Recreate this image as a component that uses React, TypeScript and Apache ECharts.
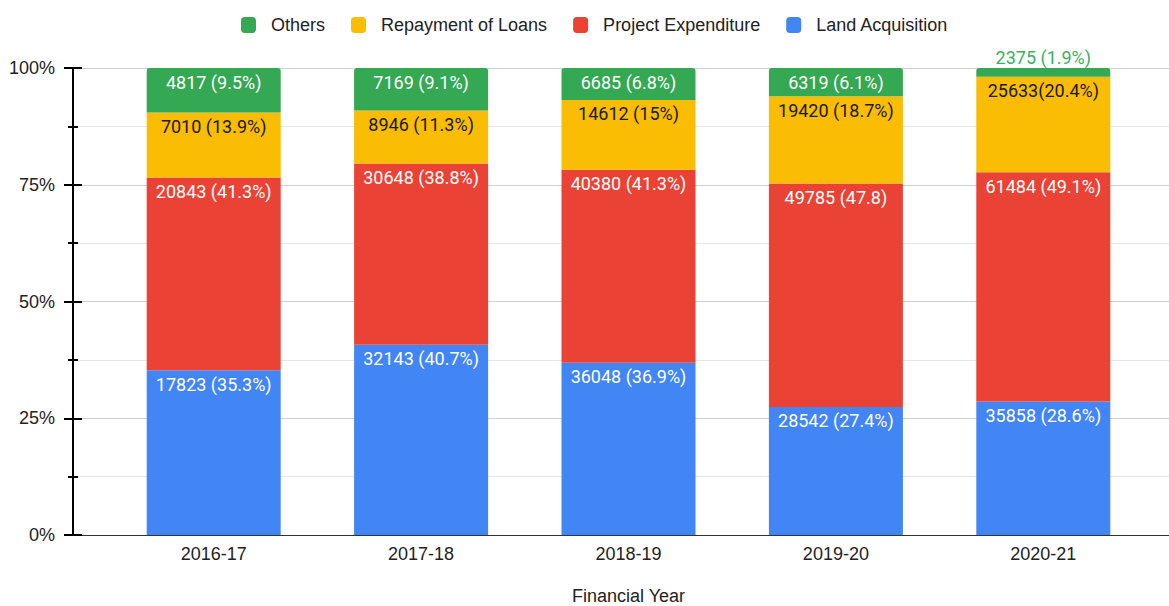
import React, { useEffect, useRef } from "react";
import * as echarts from "echarts";

const categories = ["2016-17", "2017-18", "2018-19", "2019-20", "2020-21"];
const landAcquisition = [17823, 32143, 36048, 28542, 35858];
const projectExpenditure = [20843, 30648, 40380, 49785, 61484];
const repaymentOfLoans = [7010, 8946, 14612, 19420, 25633];
const others = [4817, 7169, 6685, 6319, 2375];

const landLabels = ["17823 (35.3%)", "32143 (40.7%)", "36048 (36.9%)", "28542 (27.4%)", "35858 (28.6%)"];
const projectLabels = ["20843 (41.3%)", "30648 (38.8%)", "40380 (41.3%)", "49785 (47.8)", "61484 (49.1%)"];
const repaymentLabels = ["7010 (13.9%)", "8946 (11.3%)", "14612 (15%)", "19420 (18.7%)", "25633(20.4%)"];
const othersLabels = ["4817 (9.5%)", "7169 (9.1%)", "6685 (6.8%)", "6319 (6.1%)", "2375 (1.9%)"];

const yTicks = [0, 25, 50, 75, 100];

const AXIS_FONT = "Arial, 'Liberation Sans', sans-serif";
const LABEL_FONT = "Roboto, Arial, sans-serif";

export default function App() {
  const ref = useRef<HTMLDivElement>(null);

  useEffect(() => {
    if (!ref.current) return;
    const chart = echarts.init(ref.current, undefined, { renderer: "svg" });

    const totals = categories.map(
      (_, i) => landAcquisition[i] + projectExpenditure[i] + repaymentOfLoans[i] + others[i]
    );
    const pct = (arr: number[]) => arr.map((v, i) => (v / totals[i]) * 100);

    const mkLabel = (labels: string[], color: string) => ({
      show: true,
      position: "insideTop" as const,
      distance: 5,
      color,
      fontFamily: LABEL_FONT,
      fontSize: 18,
      formatter: (p: any) => labels[p.dataIndex],
    });

    const othersPct = pct(others);
    const othersData = othersPct.map((v) =>
      v < 4
        ? {
            value: v,
            label: { position: "top", distance: 2, color: "#3cb062" },
          }
        : v
    );

    const option: any = {
      animation: false,
      legend: {
        top: 11,
        left: 236,
        itemWidth: 15,
        itemHeight: 16,
        itemGap: 26,
        icon: "roundRect",
        textStyle: {
          fontFamily: AXIS_FONT,
          fontSize: 18,
          color: "#222",
          padding: [0, 0, 0, 10],
        },
        data: ["Others", "Repayment of Loans", "Project Expenditure", "Land Acquisition"],
      },
      grid: [
        { left: 73, right: 0, top: 68, bottom: 71, outerBoundsMode: "none", containLabel: false },
        { left: 110, right: 22, top: 68, bottom: 71, outerBoundsMode: "none", containLabel: false },
      ],
      xAxis: [
        {
          gridIndex: 0,
          type: "value",
          min: 0,
          max: 1,
          axisLine: { show: true, onZero: false, lineStyle: { color: "#333", width: 1 } },
          axisTick: { show: false },
          axisLabel: { show: false },
          splitLine: { show: false },
        },
        {
          gridIndex: 1,
          type: "category",
          data: categories,
          axisLine: { show: false },
          axisTick: { show: false },
          axisLabel: {
            margin: 10,
            fontFamily: AXIS_FONT,
            fontSize: 18,
            color: "#222",
          },
          name: "Financial Year",
          nameLocation: "middle",
          nameGap: 52,
          nameTextStyle: { fontFamily: AXIS_FONT, fontSize: 18, color: "#222" },
        },
      ],
      yAxis: [
        {
          gridIndex: 0,
          type: "value",
          min: yTicks[0],
          max: yTicks[yTicks.length - 1],
          interval: 25,
          axisLine: { show: true, lineStyle: { color: "#000", width: 2 } },
          axisTick: { show: true, length: 9, lineStyle: { color: "#000", width: 2 } },
          minorTick: { show: true, splitNumber: 2, length: 5, lineStyle: { color: "#000", width: 2 } },
          axisLabel: {
            margin: 18,
            fontFamily: AXIS_FONT,
            fontSize: 18,
            color: "#222",
            formatter: (v: number) => `${v}%`,
          },
          splitLine: { show: true, lineStyle: { color: "#d0d0d0", width: 1 } },
          minorSplitLine: { show: true, lineStyle: { color: "#e6e6e6", width: 1 } },
        },
        {
          gridIndex: 0,
          type: "value",
          position: "left",
          min: yTicks[0],
          max: yTicks[yTicks.length - 1],
          interval: 25,
          axisLine: { show: false },
          axisTick: { show: true, inside: true, length: 9, lineStyle: { color: "#000", width: 2 } },
          minorTick: { show: true, splitNumber: 2, length: 5, lineStyle: { color: "#000", width: 2 } },
          axisLabel: { show: false },
          splitLine: { show: false },
        },
        {
          gridIndex: 1,
          type: "value",
          min: 0,
          max: 100,
          show: false,
        },
      ],
      series: [
        {
          name: "Land Acquisition",
          type: "bar",
          stack: "total",
          xAxisIndex: 1,
          yAxisIndex: 2,
          barWidth: 134,
          itemStyle: { color: "#4285f4" },
          label: mkLabel(landLabels, "#fff"),
          data: pct(landAcquisition),
        },
        {
          name: "Project Expenditure",
          type: "bar",
          stack: "total",
          xAxisIndex: 1,
          yAxisIndex: 2,
          barWidth: 134,
          itemStyle: { color: "#ea4335" },
          label: mkLabel(projectLabels, "#fff"),
          data: pct(projectExpenditure),
        },
        {
          name: "Repayment of Loans",
          type: "bar",
          stack: "total",
          xAxisIndex: 1,
          yAxisIndex: 2,
          barWidth: 134,
          itemStyle: { color: "#fbbc04" },
          label: mkLabel(repaymentLabels, "#1a1a1a"),
          data: pct(repaymentOfLoans),
        },
        {
          name: "Others",
          type: "bar",
          stack: "total",
          xAxisIndex: 1,
          yAxisIndex: 2,
          barWidth: 134,
          itemStyle: { color: "#34a853", borderRadius: [3, 3, 0, 0] },
          label: mkLabel(othersLabels, "#fff"),
          data: othersData,
        },
      ],
    };

    chart.setOption(option);
    return () => chart.dispose();
  }, []);

  return <div ref={ref} style={{ width: 1169, height: 606, position: "absolute", left: 0, top: 0 }} />;
}
